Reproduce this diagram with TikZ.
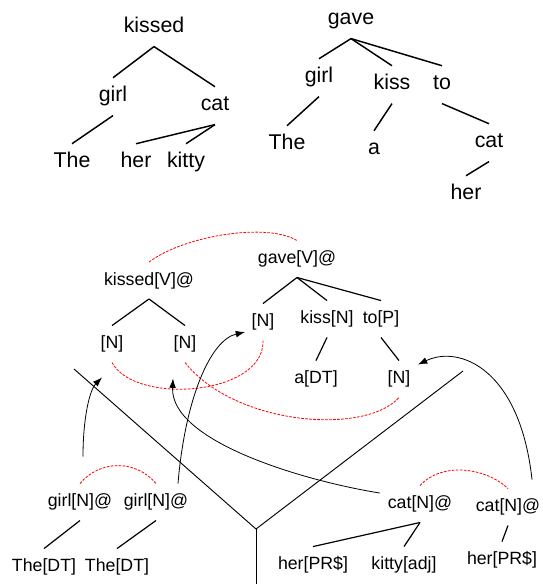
\documentclass[tikz,border=0pt]{standalone}
\usepackage{fontspec}
\setmainfont{Liberation Sans}
\usetikzlibrary{arrows.meta}
\tikzset{
  word/.style={
    anchor=base,
    inner xsep=1pt,
    inner ysep=6pt,
    text height=12pt,
    text depth=4pt,
    font=\fontsize{16}{19}\selectfont
  },
  tagword/.style={
    word,
    inner ysep=7pt,
    text height=10pt,
    text depth=3.3pt,
    font=\fontsize{13.3}{16}\selectfont
  },
  edge/.style={
    line width=1.1pt
  },
  tagedge/.style={
    line width=0.9pt
  },
  link/.style={
    red,
    line width=0.6pt,
    dash pattern=on 2pt off 1pt
  },
  move/.style={
    -{Latex[length=7pt,width=5pt]},
    line width=0.6pt
  },
  frame/.style={
    line width=0.7pt
  }
}

\begin{document}
\begin{tikzpicture}[x=0.75pt, y=-0.75pt]
\useasboundingbox (0,0) rectangle (542,584);

% first tree
\node[word] (kissed) at (154,33) {kissed};
\node[word] (girlA) at (113,102) {girl};
\node[word] (catA) at (215,111) {cat};
\node[word] (theA) at (72,168) {The};
\node[word] (herA) at (136,168) {her};
\node[word] (kitty) at (186,168) {kitty};
\draw[edge] (kissed.south) -- (girlA.north);
\draw[edge] (kissed.south) -- (catA.north);
\draw[edge] (girlA.south) -- (theA.north);
\draw[edge] (catA.south) -- (herA.north);
\draw[edge] (catA.south) -- (kitty.north);

% second tree
\node[word] (gave) at (351,25) {gave};
\node[word] (girlB) at (319,83) {girl};
\node[word] (kiss) at (392,90) {kiss};
\node[word] (to) at (442,90) {to};
\node[word] (theB) at (287,150) {The};
\node[word] (a) at (374,155) {a};
\node[word] (catB) at (489,148) {cat};
\node[word] (herB) at (466,200) {her};
\draw[edge] (gave.south) -- (girlB.north);
\draw[edge] (gave.south) -- (kiss.north);
\draw[edge] (gave.south) -- (to.north);
\draw[edge] (girlB.south) -- (theB.north);
\draw[edge] (kiss.south) -- (a.north);
\draw[edge] (to.south) -- (catB.north);
\draw[edge] (catB.south) -- (herB.north);

% tagged fragments
\node[tagword] (kissedV) at (149,285) {kissed[V]@};
\node[tagword] (nA) at (112,348.5) {[N]};
\node[tagword] (nB) at (185,348.5) {[N]};
\node[tagword] (gaveV) at (297,263.5) {gave[V]@};
\node[tagword] (nC) at (263,326.5) {[N]};
\node[tagword] (kissN) at (327,323.5) {kiss[N]};
\node[tagword] (toP) at (381,323.5) {to[P]};
\node[tagword] (aDT) at (316,383.5) {a[DT]};
\node[tagword] (nD) at (399,383.5) {[N]};
\draw[tagedge] (kissedV.south) -- (nA.north);
\draw[tagedge] (kissedV.south) -- (nB.north);
\draw[tagedge] (gaveV.south) -- (nC.north);
\draw[tagedge] (gaveV.south) -- (kissN.north);
\draw[tagedge] (gaveV.south) -- (toP.north);
\draw[tagedge] (kissN.south) -- (aDT.north);
\draw[tagedge] (toP.south) -- (nD.north);

\node[tagword] (girlL) at (80,506.5) {girl[N]@};
\node[tagword] (girlR) at (156,506.5) {girl[N]@};
\node[tagword] (theL) at (44,571.5) {The[DT]};
\node[tagword] (theR) at (117,571.5) {The[DT]};
\draw[tagedge] (girlL.south) -- (theL.north);
\draw[tagedge] (girlR.south) -- (theR.north);

\node[tagword] (catL) at (420,508.5) {cat[N]@};
\node[tagword] (catR) at (508,511.5) {cat[N]@};
\node[tagword] (herL) at (313,569.5) {her[PR\$]};
\node[tagword] (kittyAdj) at (404,569.5) {kitty[adj]};
\node[tagword] (herR) at (502,564.5) {her[PR\$]};
\draw[tagedge] (catL.south) -- (herL.north);
\draw[tagedge] (catL.south) -- (kittyAdj.north);
\draw[tagedge] (catR.south) -- (herR.north);

% splitting lines
\coordinate (fork) at (256,529);
\draw[frame] (74,369) -- (fork) -- (463,371);
\draw[frame] (fork) -- (256,584);

% red links
\draw[link] (kissedV.north) .. controls +(36,-27) and +(-29,-18) .. (gaveV.north);
\draw[link] (nA.south) .. controls +(23,43) and +(2,55) .. (nC.south);
\draw[link] (nB.south) .. controls +(50,63) and +(-34,38) .. (nD.south);
\draw[link] (girlL.north) .. controls +(20,-24) and +(-20,-24) .. (girlR.north);
\draw[link] (catL.north) .. controls +(22,-24) and +(-22,-21) .. (catR.north);

% substitution arrows
\draw[move] ([shift={(3,-27)}]girlL.north) .. controls +(0,-40) and +(-12,12) .. ([shift={(-10,15)}]nA.south);
\draw[move] ([shift={(22,0)}]girlR.north) .. controls +(7,-84) and +(-35,8) .. ([shift={(-5,10)}]nC.west);
\draw[move] ([shift={(-6.5,-11)}]catL.west) .. controls +(-80,-13) and +(-3,62) .. ([shift={(-12,16)}]nB.south);
\draw[move] ([shift={(24,-9)}]catR.north) .. controls +(-12,-110) and +(42,-20) .. ([shift={(6,4)}]nD.north east);
\end{tikzpicture}
\end{document}
